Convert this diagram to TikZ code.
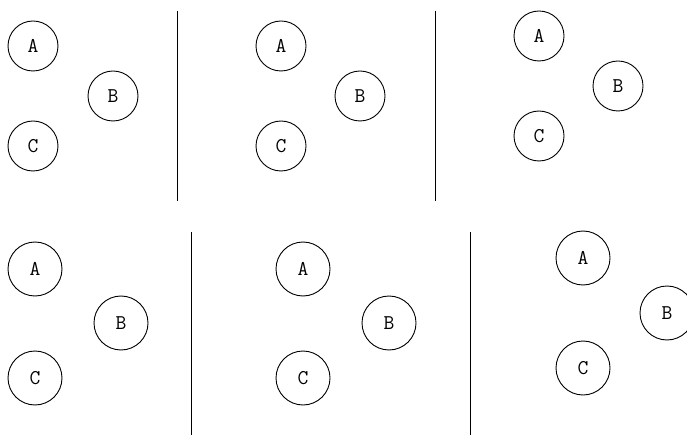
\documentclass[tikz,border=0pt]{standalone}
\usepackage{fontspec}
\setmonofont{Latin Modern Mono}
\usepackage{tikz}
\usetikzlibrary{positioning}

\begin{document}
\begin{tikzpicture}[
    x=1pt, y=-1pt,
    ball/.style={
        circle, draw=black, line width=0.9pt, inner sep=0pt,
        minimum size=#1, font=\fontsize{21}{25}\selectfont\ttfamily
    },
    ball/.default=50pt,
    divider/.style={draw=black, line width=1pt}
]
    \useasboundingbox (0,0) rectangle (687,435);

    % top row
    \node[ball] (a1) at (33,46) {A};
    \node[ball] (b1) at (113,96) {B};
    \node[ball] (c1) at (33,146) {C};
    \coordinate (sep1top) at (177,11);
    \coordinate (sep1bot) at (177,201);

    \node[ball] (a2) at (281,46) {A};
    \node[ball] (b2) at (360,96) {B};
    \node[ball] (c2) at (281,146) {C};
    \coordinate (sep2top) at (435,11);
    \coordinate (sep2bot) at (435,201);

    \node[ball] (a3) at (539,36) {A};
    \node[ball] (b3) at (618,86) {B};
    \node[ball] (c3) at (539,136) {C};

    % bottom row
    \node[ball=54pt] (a4) at (35,269) {A};
    \node[ball=54pt] (b4) at (121,323) {B};
    \node[ball=54pt] (c4) at (35,378) {C};
    \coordinate (sep3top) at (191,232);
    \coordinate (sep3bot) at (191,435);

    \node[ball=54pt] (a5) at (303,269) {A};
    \node[ball=54pt] (b5) at (389,323) {B};
    \node[ball=54pt] (c5) at (303,378) {C};
    \coordinate (sep4top) at (470,232);
    \coordinate (sep4bot) at (470,435);

    \node[ball=54pt] (a6) at (583,258) {A};
    \node[ball=54pt] (b6) at (667,313) {B};
    \node[ball=54pt] (c6) at (583,368) {C};

    \draw[divider] (sep1top) -- (sep1bot);
    \draw[divider] (sep2top) -- (sep2bot);
    \draw[divider] (sep3top) -- (sep3bot);
    \draw[divider] (sep4top) -- (sep4bot);
\end{tikzpicture}
\end{document}
